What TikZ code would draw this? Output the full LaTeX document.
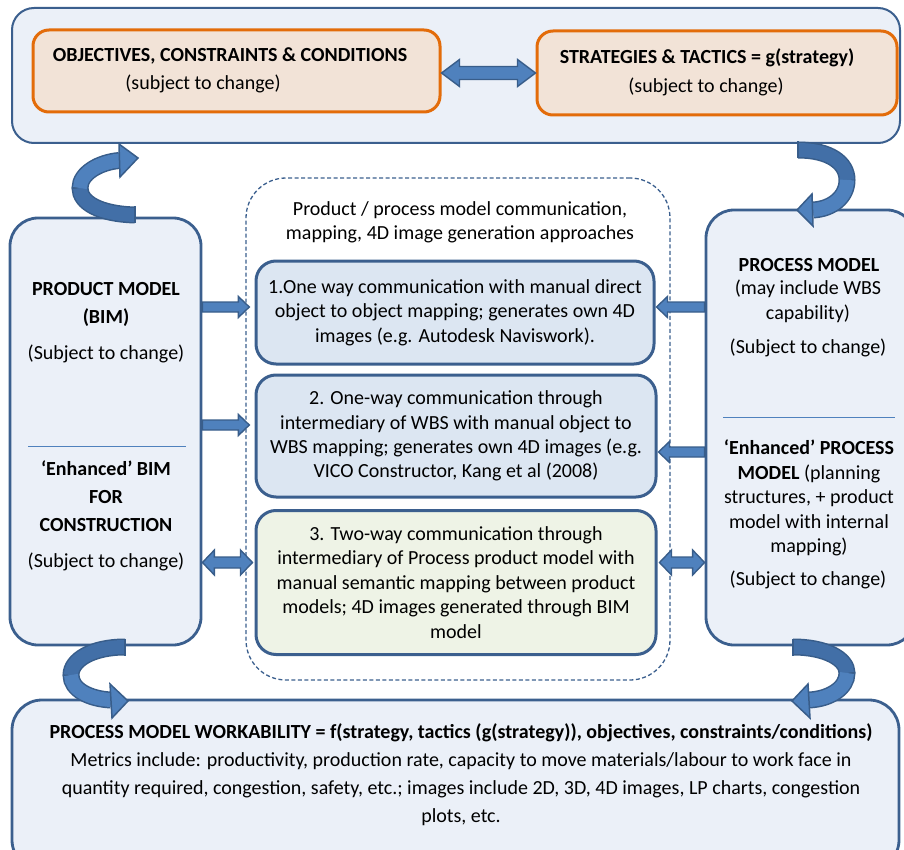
\documentclass[tikz,border=0pt]{standalone}
\usepackage{fontspec}
\setmainfont{Carlito}
\usetikzlibrary{calc}

\definecolor{edgeblue}{HTML}{3B5F8E}
\definecolor{panel}{HTML}{EBF0F8}
\definecolor{cellblue}{HTML}{DCE6F2}
\definecolor{cellgreen}{HTML}{EEF3E6}
\definecolor{peach}{HTML}{F2E3D7}
\definecolor{orangeline}{HTML}{E36C0A}
\definecolor{arrowfill}{HTML}{4F81BD}
\definecolor{arrowdark}{HTML}{426FA7}
\definecolor{arrowline}{HTML}{385D8A}
\definecolor{divider}{HTML}{4F81BD}

\tikzset{
  txt/.style={inner sep=0pt, align=center},
  wide/.style={font=\fontsize{20}{28}\selectfont},
  widebold/.style={font=\fontsize{20}{28}\selectfont\bfseries},
  topbox/.style={draw=edgeblue, fill=panel, line width=2pt, rounded corners=22pt, inner sep=0pt},
  goalbox/.style={draw=orangeline, fill=peach, line width=3pt, rounded corners=16pt, inner sep=0pt},
  panelbox/.style={draw=edgeblue, fill=panel, line width=2.8pt, rounded corners=28pt, inner sep=0pt},
  dashbox/.style={draw=edgeblue, line width=1.3pt, dash pattern=on 4pt off 2.5pt, rounded corners=40pt, inner sep=0pt},
  cellbox/.style={draw=edgeblue, line width=3pt, rounded corners=20pt, inner sep=0pt, align=center},
  dividerline/.style={draw=divider, line width=1pt},
  blockarrow/.style={draw=arrowline, fill=arrowfill, line width=1.4pt, line join=miter},
  bandedge/.style={draw=arrowline, line width=17pt},
  banddark/.style={draw=arrowdark, line width=14pt},
  bandlight/.style={draw=arrowfill, line width=14pt},
  bandend/.style={draw=arrowline, line width=1.5pt},
  bandhead/.style={draw=arrowline, fill=arrowfill, line width=1.5pt, line join=miter},
}

% block arrow from #1 to #2 (named points); shaft half width #3, head half width #4, head length #5
\newcommand{\onewayarrow}[5]{%
  \draw[blockarrow] let \p1=(#1), \p2=(#2), \n1={sign(\x2-\x1)} in
    (\x1,\y1+#3) -- (\x2-\n1*#5,\y1+#3) -- (\x2-\n1*#5,\y1+#4) -- (\x2,\y1)
    -- (\x2-\n1*#5,\y1-#4) -- (\x2-\n1*#5,\y1-#3) -- (\x1,\y1-#3) -- cycle;}
\newcommand{\twowayarrow}[5]{%
  \draw[blockarrow] let \p1=(#1), \p2=(#2), \n1={sign(\x2-\x1)} in
    (\x1,\y1) -- (\x1+\n1*#5,\y1+#4) -- (\x1+\n1*#5,\y1+#3) -- (\x2-\n1*#5,\y1+#3)
    -- (\x2-\n1*#5,\y1+#4) -- (\x2,\y1) -- (\x2-\n1*#5,\y1-#4) -- (\x2-\n1*#5,\y1-#3)
    -- (\x1+\n1*#5,\y1-#3) -- (\x1+\n1*#5,\y1-#4) -- cycle;}

\begin{document}
\begin{tikzpicture}[x=1pt, y=-1pt, font=\fontsize{20}{24.4}\selectfont]
\useasboundingbox (0,0) rectangle (904,850);

% ---- top band: goals and strategies ----
\node[topbox, minimum width=888pt, minimum height=135pt] (goals) at (456,75.5) {};
\node[goalbox, minimum width=407pt, minimum height=82pt] (obj) at (236.5,71) {};
\node[goalbox, minimum width=360pt, minimum height=84pt] (strat) at (717,73) {};
\node[txt] (objtitle) at (230,56) {\bfseries OBJECTIVES, CONSTRAINTS \& CONDITIONS};
\node[txt] (objnote) at (203,84) {(subject to change)};
\node[txt] (strattitle) at (707,58) {\bfseries STRATEGIES \& TACTICS = g(strategy)};
\node[txt] (stratnote) at (706,87) {(subject to change)};

% ---- side panels ----
\node[panelbox, minimum width=191pt, minimum height=427pt] (product) at (105.5,431.5) {};
\node[panelbox, minimum width=209pt, minimum height=435pt] (process) at (810.5,427.5) {};

\node[txt, widebold] (prodhead) at (106,304) {PRODUCT MODEL\\(BIM)};
\node[txt] (prodnote) at (106,354) {(Subject to change)};
\draw[dividerline] (28,446) -- (186,446);
\node[txt, widebold] (enhhead) at (106,496) {‘Enhanced’ BIM\\FOR\\CONSTRUCTION};
\node[txt] (enhnote) at (106,562) {(Subject to change)};

\node[txt] (prochead) at (809,265) {\bfseries PROCESS MODEL};
\node[txt] (procwbs) at (808,301.5) {(may include WBS\\capability)};
\node[txt] (procnote) at (808,348) {(Subject to change)};
\draw[dividerline] (723,417) -- (895,417);
\node[txt] (prochead2) at (809,498) {{\bfseries ‘Enhanced’ PROCESS}\\{\bfseries MODEL} (planning\\structures, + product\\model with internal\\mapping)};
\node[txt] (procnote2) at (808,580) {(Subject to change)};

% ---- communication approaches ----
\node[dashbox, minimum width=424pt, minimum height=502pt] (approach) at (458,429) {};
\node[txt] (approachhead) at (460,222.5) {Product / process model communication,\\mapping, 4D image generation approaches};

\node[cellbox, fill=cellblue, minimum width=398pt, minimum height=103pt] (m1) at (455,312.5)
  {1.One way communication with manual direct\\object to object mapping; generates own 4D\\images (e.g. Autodesk Naviswork).};
\node[cellbox, fill=cellblue, minimum width=400pt, minimum height=122pt] (m2) at (456,436)
  {2. One-way communication through\\intermediary of WBS with manual object to\\WBS mapping; generates own 4D images (e.g.\\VICO Constructor, Kang et al (2008)};
\node[cellbox, fill=cellgreen, minimum width=400pt, minimum height=144pt] (m3) at (456,582.5)
  {3. Two-way communication through\\intermediary of Process product model with\\manual semantic mapping between product\\models; 4D images generated through BIM\\model};

% ---- workability ----
\node[panelbox, rounded corners=30pt, minimum width=887pt, minimum height=170pt] (workability) at (455.5,785) {};
\node[txt, wide] (worktext) at (461,775)
  {{\bfseries PROCESS MODEL WORKABILITY = f(strategy, tactics (g(strategy)), objectives, constraints/conditions)}\\
   Metrics include: productivity, production rate, capacity to move materials/labour to work face in\\
   quantity required, congestion, safety, etc.; images include 2D, 3D, 4D images, LP charts, congestion\\
   plots, etc.};

% ---- block arrows ----
\coordinate (rowtop) at (0,73);
\coordinate (row1) at (0,307);
\coordinate (row2l) at (0,425);
\coordinate (row2r) at (0,452);
\coordinate (row3) at (0,562.5);
\coordinate (dashleft) at ([xshift=4pt]approach.west);
\coordinate (m3left) at ([xshift=-2pt]m3.west);
\coordinate (m3right) at ([xshift=2pt]m3.east);
\coordinate (m1right) at ([xshift=1pt]m1.east);
\coordinate (m2right) at ([xshift=1pt]m2.east);

\coordinate (ta) at (obj.east |- rowtop);   \coordinate (tb) at (strat.west |- rowtop);
\coordinate (l1a) at (product.east |- row1); \coordinate (l1b) at (dashleft |- row1);
\coordinate (l2a) at (product.east |- row2l); \coordinate (l2b) at (dashleft |- row2l);
\coordinate (l3a) at (product.east |- row3); \coordinate (l3b) at (m3left |- row3);
\coordinate (r1a) at (process.west |- row1); \coordinate (r1b) at (m1right |- row1);
\coordinate (r2a) at (process.west |- row2r); \coordinate (r2b) at (m2right |- row2r);
\coordinate (r3a) at (m3right |- row3);      \coordinate (r3b) at (process.west |- row3);

\twowayarrow{ta}{tb}{6.5pt}{13.5pt}{18pt}
\onewayarrow{l1a}{l1b}{5pt}{10.5pt}{11pt}
\onewayarrow{l2a}{l2b}{5pt}{10.5pt}{11pt}
\twowayarrow{l3a}{l3b}{5.5pt}{12.5pt}{12pt}
\onewayarrow{r1a}{r1b}{5pt}{10.5pt}{11pt}
\onewayarrow{r2a}{r2b}{5pt}{10.5pt}{11pt}
\twowayarrow{r3a}{r3b}{5.5pt}{12.5pt}{12pt}

% ---- curved arrows ----
% product model up to goals
\draw[bandedge] (135,215) .. controls (100,214) and (80,203) .. (80,188) .. controls (80,173) and (100,162) .. (119.5,160.5);
\draw[banddark] (135,215) .. controls (100,214) and (80,203) .. (80,188);
\draw[bandlight] (80,188) .. controls (80,173) and (100,162) .. (119.5,160.5);
\draw[bandend] (135,206.5) -- (135,223.5);
\draw[bandhead] (119,144) -- (138,158) -- (120,177) -- cycle;

% goals down to process model
\draw[bandedge] (798,150) .. controls (830,150) and (847,163) .. (847,180) .. controls (847,197) and (832,209) .. (813,210);
\draw[banddark] (798,150) .. controls (830,150) and (847,163) .. (847,180);
\draw[bandlight] (847,180) .. controls (847,197) and (832,209) .. (813,210);
\draw[bandend] (798,141.5) -- (798,158.5);
\draw[bandhead] (812,194) -- (797,210) -- (813,226) -- cycle;

% product model down to workability
\draw[bandedge] (125,647) .. controls (92,647) and (71,660) .. (71,675) .. controls (71,690) and (90,699) .. (111,700);
\draw[banddark] (125,647) .. controls (92,647) and (71,660) .. (71,675);
\draw[bandlight] (71,675) .. controls (71,690) and (90,699) .. (111,700);
\draw[bandend] (125,638.5) -- (125,655.5);
\draw[bandhead] (110,684) -- (128,701) -- (112,718) -- cycle;

% process model down to workability
\draw[bandedge] (793,647) .. controls (826,647) and (847,659) .. (847,673) .. controls (847,688) and (830,699) .. (809,700);
\draw[banddark] (793,647) .. controls (826,647) and (847,659) .. (847,673);
\draw[bandlight] (847,673) .. controls (847,688) and (830,699) .. (809,700);
\draw[bandend] (793,638.5) -- (793,655.5);
\draw[bandhead] (808,684) -- (792,701) -- (810,718) -- cycle;
\end{tikzpicture}
\end{document}
